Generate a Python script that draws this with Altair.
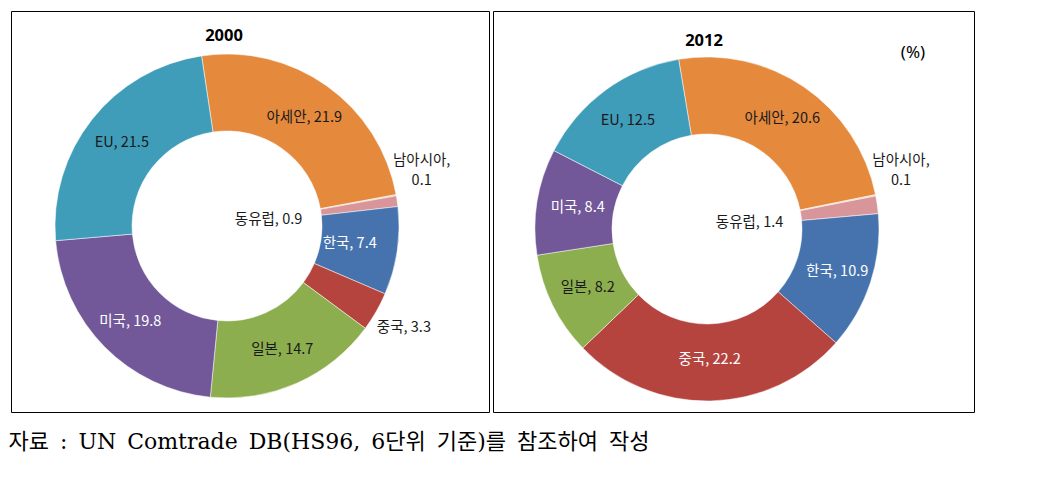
import math
import altair as alt
import pandas as pd

# ---- data ----
regions = ["아세안", "남아시아", "동유럽", "한국", "중국", "일본", "미국", "EU"]
share_2000 = [21.9, 0.1, 0.9, 7.4, 3.3, 14.7, 19.8, 21.5]
share_2012 = [20.6, 0.1, 1.4, 10.9, 22.2, 8.2, 8.4, 12.5]
years = ["2000", "2012"]
unit_label = "(%)"
source_note = "자료 : UN Comtrade DB(HS96, 6단위 기준)를 참조하여 작성"

# ---- styles ----
colors = ["#E5893D", "#EBC9A6", "#D9969A", "#4673AE", "#B5443F", "#8DAE4E", "#735899", "#3F9DB9"]
label_radius_2000 = [133, 206, 42, 124, 204, 136, 136, 134]
label_radius_2012 = [133, 206, 43, 137, 131, 133, 131, 134]
label_color_2000 = ["#1a1a1a", "#1a1a1a", "#1a1a1a", "white", "#1a1a1a", "#1a1a1a", "white", "#1a1a1a"]
label_color_2012 = ["#1a1a1a", "#1a1a1a", "#1a1a1a", "white", "white", "#1a1a1a", "white", "#1a1a1a"]

FONT = "Noto Sans CJK KR"


def donut(values, year, radii, lcolors, start_deg, cx, cy, vw, vh, title_xy, extra=None):
    labels = []
    for r, v in zip(regions, values):
        if r == "남아시아":
            labels.append(f"{r},\n{v:.1f}")
        else:
            labels.append(f"{r}, {v:.1f}")
    df = pd.DataFrame({
        "region": regions,
        "value": values,
        "idx": list(range(len(regions))),
        "label": labels,
        "lr": radii,
        "tc": lcolors,
    })
    total = sum(values)
    s = math.radians(start_deg)
    tscale = alt.Scale(domain=[0, total], range=[s, s + 2 * math.pi])

    base = alt.Chart(df).transform_stack(
        stack="value", groupby=[], as_=["v0", "v1"],
        sort=[alt.SortField("idx", order="ascending")],
    ).transform_calculate(mid="(datum.v0 + datum.v1) / 2")

    arc = base.mark_arc(outerRadius=172, innerRadius=95, stroke="white", strokeWidth=0.5).encode(
        theta=alt.Theta("v0:Q", scale=tscale),
        theta2="v1:Q",
        color=alt.Color("region:N", scale=alt.Scale(domain=regions, range=colors), legend=None),
        x=alt.value(cx), y=alt.value(cy),
    )

    txt_enc = dict(
        theta=alt.Theta("mid:Q", scale=tscale),
        radius=alt.Radius("lr:Q", scale=None),
        text="label:N",
        color=alt.Color("tc:N", scale=None),
        x=alt.value(cx), y=alt.value(cy),
    )
    txt = base.transform_filter("datum.region != '남아시아'").mark_text(
        font=FONT, fontSize=14.5, lineBreak="\n"
    ).encode(**txt_enc)
    txt_out = base.transform_filter("datum.region == '남아시아'").mark_text(
        font=FONT, fontSize=14.5, lineBreak="\n", dx=-8, dy=-28, lineHeight=20
    ).encode(**txt_enc)

    title = alt.Chart(pd.DataFrame({"t": [year]})).mark_text(
        font="Noto Sans", fontSize=16.5, fontWeight="bold", color="black"
    ).encode(text="t:N", x=alt.value(title_xy[0]), y=alt.value(title_xy[1]))

    layers = [arc, txt, txt_out, title]
    if extra is not None:
        layers.append(extra)
    return alt.layer(*layers).properties(width=vw, height=vh)


unit = alt.Chart(pd.DataFrame({"t": [unit_label]})).mark_text(
    font="Noto Sans", fontSize=17, color="black"
).encode(text="t:N", x=alt.value(420), y=alt.value(42))

left = donut(share_2000, years[0], label_radius_2000, label_color_2000, -8.5, 216, 215, 478, 401, (213, 25))
right = donut(share_2012, years[1], label_radius_2012, label_color_2012, -9.5, 214, 218, 481, 401, (211, 30), unit)

chart = alt.hconcat(left, right, spacing=2).properties(
    padding={"left": 0, "top": 2, "right": 4, "bottom": 4},
    title=alt.TitleParams(
        source_note.replace(" ", "\u2002"), orient="bottom", anchor="start", offset=19, dx=-2,
        font="DejaVu Serif, Noto Sans CJK KR", fontSize=22, fontWeight="normal", color="black",
    ),
).configure_view(stroke="black", strokeWidth=1)

chart.save("out.html", embed_options={"renderer": "svg", "actions": False})
